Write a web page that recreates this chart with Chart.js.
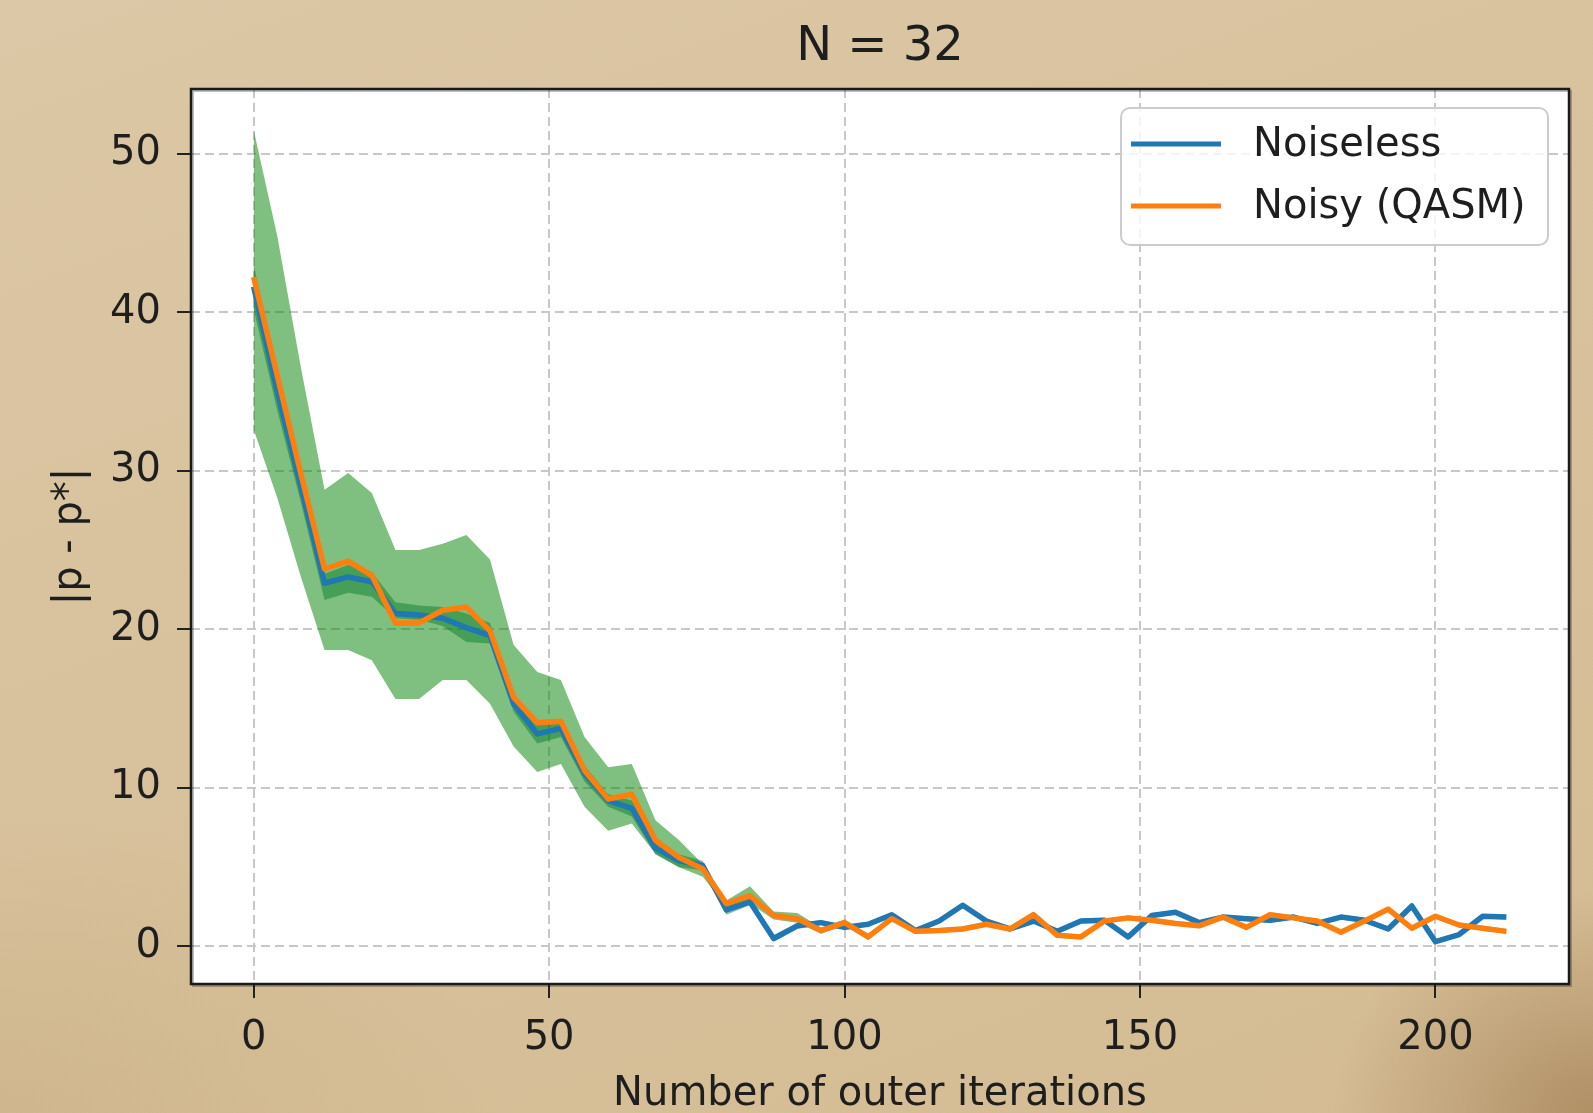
<!DOCTYPE html>
<html>
<head>
<meta charset="utf-8">
<script src="https://cdn.jsdelivr.net/npm/chart.js@4.4.0/dist/chart.umd.min.js"></script>
<style>
html, body { margin: 0; padding: 0; }
body {
  width: 1593px; height: 1113px; overflow: hidden;
  background:
    radial-gradient(ellipse 260px 220px at 100% 100%, rgba(140, 100, 55, 0.5), rgba(140, 100, 55, 0) 100%),
    radial-gradient(ellipse 500px 300px at 0% 100%, rgba(190, 160, 115, 0.3), rgba(190, 160, 115, 0) 100%),
    linear-gradient(160deg, #dcc7a6 0%, #d8c29d 45%, #d4bb93 100%);
}
canvas { display: block; }
</style>
</head>
<body>
<canvas id="myChart" width="1593" height="1113"></canvas>
<script>
// iteraciones (eje x) y valores
const iterations = [0, 4, 8, 12, 16, 20, 24, 28, 32, 36, 40, 44, 48, 52, 56, 60, 64, 68, 72, 76,
  80, 84, 88, 92, 96, 100, 104, 108, 112, 116, 120, 124, 128, 132, 136, 140, 144, 148, 152, 156,
  160, 164, 168, 172, 176, 180, 184, 188, 192, 196, 200, 204, 208, 212];

const noiseless = [41.6, 35.0, 29.0, 22.9, 23.3, 23.0, 21.0, 20.9, 20.7, 20.1, 19.6, 15.3, 13.4, 13.75,
  10.9, 9.2, 8.7, 6.2, 5.4, 5.1, 2.3, 2.8, 0.5, 1.3, 1.5, 1.2, 1.4, 2.0, 1.0, 1.6, 2.6, 1.6, 1.1, 1.6,
  0.95, 1.6, 1.65, 0.6, 1.95, 2.15, 1.5, 1.85, 1.75, 1.65, 1.85, 1.45, 1.85, 1.65, 1.1, 2.55, 0.3, 0.75,
  1.9, 1.85];
const noiselessUpper = [43.0, 36.2, 30.0, 23.5, 24.05, 23.6, 21.7, 21.5, 21.4, 21.0, 20.4, 15.8, 14.0, 14.3,
  11.4, 9.6, 9.2, 6.6, 5.8, 5.4, 2.6, 3.0, 0.7, 1.5, 1.65, 1.35, 1.55, 2.15, 1.15, 1.75, 2.75, 1.75, 1.25,
  1.75, 1.1, 1.75, 1.8, 0.75, 2.1, 2.3, 1.65, 2.0, 1.9, 1.8, 2.0, 1.6, 2.0, 1.8, 1.25, 2.7, 0.45, 0.9,
  2.05, 2.0];
const noiselessLower = [40.2, 33.8, 28.0, 21.85, 22.3, 22.05, 20.7, 20.6, 20.2, 19.2, 19.1, 14.8, 12.8, 13.2,
  10.4, 8.8, 8.2, 5.8, 5.0, 4.8, 2.0, 2.6, 0.3, 1.1, 1.35, 1.05, 1.25, 1.85, 0.85, 1.45, 2.45, 1.45, 0.95,
  1.45, 0.8, 1.45, 1.5, 0.45, 1.8, 2.0, 1.35, 1.7, 1.6, 1.5, 1.7, 1.3, 1.7, 1.5, 0.95, 2.4, 0.15, 0.6,
  1.75, 1.7];

const noisy = [42.2, 36.0, 29.8, 23.8, 24.3, 23.4, 20.4, 20.4, 21.2, 21.4, 19.9, 15.7, 14.1, 14.2,
  11.1, 9.3, 9.6, 6.7, 5.6, 4.9, 2.7, 3.2, 1.95, 1.75, 1.0, 1.5, 0.6, 1.75, 0.95, 1.0, 1.1, 1.4, 1.1, 2.0,
  0.7, 0.6, 1.6, 1.8, 1.65, 1.45, 1.3, 1.85, 1.2, 2.0, 1.8, 1.6, 0.9, 1.6, 2.35, 1.15, 1.9, 1.35, 1.15,
  0.95];
const noisyUpper = [51.5, 44.8, 36.5, 28.8, 29.85, 28.6, 25.0, 25.0, 25.4, 25.95, 24.4, 19.0, 17.3, 16.8,
  13.2, 11.3, 11.5, 7.95, 6.7, 5.2, 2.9, 3.8, 2.2, 2.1, 1.2, 1.7, 0.8, 1.9, 1.1, 1.15, 1.25, 1.55, 1.25,
  2.2, 0.85, 0.75, 1.75, 1.95, 1.8, 1.6, 1.45, 2.0, 1.35, 2.15, 1.95, 1.75, 1.05, 1.75, 2.5, 1.3, 2.05,
  1.5, 1.3, 1.1];
const noisyLower = [32.6, 28.3, 23.3, 18.7, 18.7, 18.05, 15.6, 15.6, 16.8, 16.8, 15.3, 12.6, 11.0, 11.5,
  8.8, 7.3, 7.75, 5.85, 5.0, 4.4, 2.5, 2.7, 1.7, 1.5, 0.8, 1.3, 0.4, 1.6, 0.8, 0.85, 0.95, 1.25, 0.95,
  1.8, 0.55, 0.45, 1.45, 1.65, 1.5, 1.3, 1.15, 1.7, 1.05, 1.85, 1.65, 1.45, 0.75, 1.45, 2.2, 1.0, 1.75,
  1.2, 1.0, 0.8];

const xTicks = [0, 50, 100, 150, 200];
const yTicks = [0, 10, 20, 30, 40, 50];

const pts = arr => iterations.map((x, i) => ({ x: x, y: arr[i] }));

Chart.defaults.font.family = "'DejaVu Sans', sans-serif";
Chart.defaults.color = '#1e1e1e';

const band = (data, fill, color) => ({
  data: data, fill: fill, backgroundColor: color, borderWidth: 0,
  pointRadius: 0, order: 3
});

// fondo blanco del area, marco, titulo y leyenda (como matplotlib)
const axesBox = {
  id: 'axesBox',
  beforeDraw(chart) {
    const { ctx, chartArea: a } = chart;
    ctx.save();
    ctx.fillStyle = '#fff';
    ctx.fillRect(a.left, a.top, a.right - a.left, a.bottom - a.top);
    ctx.restore();
  },
  afterDraw(chart) {
    const { ctx, chartArea: a } = chart;
    ctx.save();
    ctx.strokeStyle = 'rgba(0,0,0,0.25)';
    ctx.lineWidth = 2;
    ctx.strokeRect(a.left + 2, a.top + 2, a.right - a.left, a.bottom - a.top);
    ctx.strokeStyle = '#1a1a1a';
    ctx.lineWidth = 2.5;
    ctx.strokeRect(a.left, a.top, a.right - a.left, a.bottom - a.top);

    // titulo
    ctx.fillStyle = '#1e1e1e';
    ctx.font = "48px 'DejaVu Sans'";
    ctx.textAlign = 'center';
    ctx.textBaseline = 'middle';
    ctx.fillText('N = 32', (a.left + a.right) / 2, 48);

    // leyenda
    const items = chart.data.datasets.filter(d => d.label);
    const bx = a.right - 448, by = a.top + 19, bw = 427, bh = 137;
    ctx.fillStyle = 'rgba(255,255,255,0.8)';
    ctx.strokeStyle = '#cccccc';
    ctx.lineWidth = 2;
    ctx.beginPath();
    ctx.roundRect(bx, by, bw, bh, 9);
    ctx.fill();
    ctx.stroke();
    ctx.font = "40px 'DejaVu Sans'";
    ctx.textAlign = 'left';
    items.forEach((d, i) => {
      const y = by + 36 + i * 62;
      ctx.strokeStyle = d.borderColor;
      ctx.lineWidth = 5;
      ctx.beginPath();
      ctx.moveTo(bx + 10, y);
      ctx.lineTo(bx + 100, y);
      ctx.stroke();
      ctx.fillStyle = '#1e1e1e';
      ctx.fillText(d.label, bx + 132, y + 2);
    });
    ctx.restore();
  }
};

const context = document.getElementById('myChart');

const myChart = new Chart(context, {
  type: 'line',
  data: {
    datasets: [
      band(pts(noisyUpper), '+1', 'rgba(0, 128, 0, 0.5)'),
      band(pts(noisyLower), false, 'rgba(0, 128, 0, 0.5)'),
      band(pts(noiselessUpper), '+1', 'rgba(0, 110, 70, 0.45)'),
      band(pts(noiselessLower), false, 'rgba(0, 110, 70, 0.45)'),
      {
        label: 'Noiseless', data: pts(noiseless), borderColor: '#1f77b4',
        borderWidth: 5.5, pointRadius: 0, fill: false, order: 1, borderJoinStyle: 'round'
      },
      {
        label: 'Noisy (QASM)', data: pts(noisy), borderColor: '#ff7f0e',
        borderWidth: 5.5, pointRadius: 0, fill: false, order: 0, borderJoinStyle: 'round'
      }
    ]
  },
  options: {
    responsive: false,
    animation: false,
    devicePixelRatio: 1,
    layout: { padding: { left: 0, right: 24, top: 89, bottom: 0 } },
    plugins: {
      legend: { display: false },
      title: { display: false },
      tooltip: { enabled: false }
    },
    scales: {
      x: {
        type: 'linear', min: -10.6, max: 222.6,
        afterBuildTicks: s => { s.ticks = xTicks.map(v => ({ value: v })); },
        afterFit: s => { s.height = 129; },
        grid: { color: '#c8c8c8', lineWidth: 2, tickLength: 14, tickColor: '#222', tickWidth: 2 },
        border: { display: false, dash: [9, 5] },
        ticks: { font: { size: 40 }, padding: 17, maxRotation: 0 },
        title: {
          display: true, text: 'Number of outer iterations',
          font: { size: 40, lineHeight: 0.85 }, padding: { top: 0, bottom: 1 }
        }
      },
      y: {
        type: 'linear', min: -2.37, max: 54.07,
        afterBuildTicks: s => { s.ticks = yTicks.map(v => ({ value: v })); },
        afterFit: s => { s.width = 191; },
        grid: { color: '#c8c8c8', lineWidth: 2, tickLength: 14, tickColor: '#222', tickWidth: 2 },
        border: { display: false, dash: [9, 5] },
        ticks: { font: { size: 40 }, padding: 16 },
        title: {
          display: true, text: '|p - p*|',
          font: { size: 40, lineHeight: 1 }, padding: { top: 51, bottom: 0 }
        }
      }
    }
  },
  plugins: [axesBox]
});
</script>
</body>
</html>
